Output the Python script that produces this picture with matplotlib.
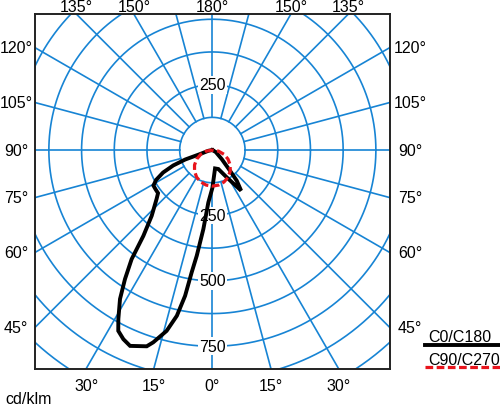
import numpy as np
import matplotlib.pyplot as plt
from matplotlib.lines import Line2D

plt.rcParams['font.family'] = ['Liberation Sans', 'DejaVu Sans']

# gamma measured from nadir (deg), intensity in cd/klm
# C0/C180 plane: C180 drawn on the left, C0 on the right
gamma_c180 = [0, 4.4, 6.5, 8.4, 9.6, 10.6, 12.1, 14.2, 17.1, 18.5, 22.8, 25.2, 27.5,
              29.1, 31.8, 34.1, 36.5, 38.8, 42.7, 48.7, 51.6, 55.2, 58.9, 62, 65.5,
              68.5, 70.8, 72, 80, 90]
r_c180 = [145, 201, 304, 408, 474, 567, 648, 713, 769, 791, 812, 799, 779,
          739, 670, 596, 519, 421, 342, 284, 265, 264, 263, 244, 207,
          161, 110, 49, 15, 0]
gamma_c0 = [0, 8.3, 17.5, 27.8, 35.3, 38.5, 40.5, 46, 60, 90]
r_c0 = [145, 71, 76, 118, 190, 150, 104, 50, 15, 0]

# C90/C270 plane
gamma_c90 = [0, 10, 20, 30, 40, 50, 60, 70, 80, 90]
r_c90 = [138, 136, 130, 120, 106, 89, 69, 47, 24, 0]
gamma_c270 = [0, 10, 20, 30, 40, 50, 60, 70, 80, 90]
r_c270 = [138, 136, 130, 120, 106, 89, 69, 47, 24, 0]

rings = [125, 250, 375, 500, 625, 750, 875, 1000, 1125]
ring_labels = [250, 500, 750]
side_ticks = [45, 60, 75, 90, 105, 120]
top_ticks = [135, 150, 180]
bottom_ticks = [0, 15, 30]
legend_labels = ['C0/C180', 'C90/C270']

blue = '#1784d4'
red = '#e8141c'
fs = 11.5
xmin, xmax, ymin, ymax = -678, 679, -835, 520


def to_xy(gamma, r, side):
    g = np.radians(np.asarray(gamma, float))
    r = np.asarray(r, float)
    return side * r * np.sin(g), -r * np.cos(g)


fig = plt.figure(figsize=(5, 4.06), dpi=100)
ax = fig.add_axes([0.07, 0.0899, 0.71, 0.8731])

# polar grid
th = np.linspace(0, 2 * np.pi, 400)
for rr in rings:
    ax.plot(rr * np.cos(th), rr * np.sin(th), color=blue, lw=1.2, zorder=1)
for a in range(0, 360, 15):
    ar = np.radians(a)
    ax.plot([125 * np.sin(ar), 1300 * np.sin(ar)], [-125 * np.cos(ar), -1300 * np.cos(ar)],
            color=blue, lw=1.2, zorder=1)

# curves
xl, yl = to_xy(gamma_c180[::-1], r_c180[::-1], -1)
xr, yr = to_xy(gamma_c0, r_c0, 1)
ax.plot(np.concatenate([xl, xr]), np.concatenate([yl, yr]), color='black', lw=2.8,
        solid_joinstyle='miter', zorder=3)
xl, yl = to_xy(gamma_c270[::-1], r_c270[::-1], -1)
xr, yr = to_xy(gamma_c90, r_c90, 1)
ax.plot(np.concatenate([xl, xr]), np.concatenate([yl, yr]), color=red, lw=2.3,
        ls=(0, (2.4, 1.1)), zorder=4)

ax.set_xlim(xmin, xmax)
ax.set_ylim(ymin, ymax)
ax.set_xticks([])
ax.set_yticks([])
for s in ax.spines.values():
    s.set_color('#222222')
    s.set_linewidth(1.4)

# radial value labels
box = dict(facecolor='white', edgecolor='none', pad=1.0)
for v in ring_labels:
    ax.text(0, -v, str(v), ha='center', va='center', fontsize=fs, bbox=box, zorder=2)
ax.text(0, ring_labels[0], str(ring_labels[0]), ha='center', va='center', fontsize=fs,
        bbox=box, zorder=2)

# angle labels
for g in side_ticks:
    gr = np.radians(g)
    y = -np.cos(gr) * xmax / np.sin(gr)
    ax.annotate(f'{g}°', (xmax, y), xytext=(14.5, 0), textcoords='offset points',
                ha='center', va='center', fontsize=fs, annotation_clip=False)
    y = -np.cos(gr) * (-xmin) / np.sin(gr)
    ax.annotate(f'{g}°', (xmin, y), xytext=(-13.5, 0), textcoords='offset points',
                ha='center', va='center', fontsize=fs, annotation_clip=False)
for g in top_ticks:
    gr = np.radians(g)
    x = np.sin(gr) * ymax / -np.cos(gr)
    for sd in ([1, -1] if g != 180 else [1]):
        ax.annotate(f'{g}°', (sd * x, ymax), xytext=(0, 2.3), textcoords='offset points',
                    ha='center', va='baseline', fontsize=fs, annotation_clip=False)
for g in bottom_ticks:
    gr = np.radians(g)
    x = np.sin(gr) * (-ymin) / np.cos(gr)
    for sd in ([1, -1] if g != 0 else [1]):
        ax.annotate(f'{g}°', (sd * x, ymin), xytext=(0, -15.5), textcoords='offset points',
                    ha='center', va='baseline', fontsize=fs, annotation_clip=False)

fig.text(0.01, 0.006, 'cd/klm', fontsize=fs, va='baseline', ha='left')

# legend
fig.text(0.856, 0.1576, legend_labels[0], fontsize=fs, va='baseline', ha='left')
fig.add_artist(Line2D([0.85, 1.0], [0.1485, 0.1485], color='black', lw=2.8,
                      transform=fig.transFigure))
fig.text(0.856, 0.101, legend_labels[1], fontsize=fs, va='baseline', ha='left')
fig.add_artist(Line2D([0.85, 1.0], [0.0929, 0.0929], color=red, lw=2.3,
                      ls=(0, (2.4, 1.1)), transform=fig.transFigure))

fig.savefig('out.png', dpi=100)
